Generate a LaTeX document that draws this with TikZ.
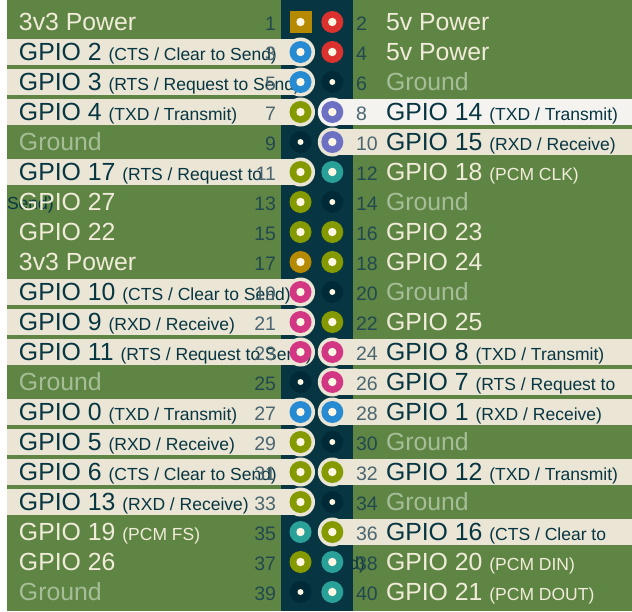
\documentclass[tikz,border=0pt]{standalone}
\usepackage{fontspec}
\setmainfont{Liberation Sans}
\definecolor{panel}{HTML}{5F8544}
\definecolor{column}{HTML}{073642}
\definecolor{beige}{HTML}{EAE5D5}
\definecolor{beigehi}{HTML}{F4F3EF}
\definecolor{ink}{HTML}{073642}
\definecolor{cream}{HTML}{F1ECD9}
\definecolor{gndtxt}{HTML}{A6BE98}
\definecolor{numg}{HTML}{21494F}
\definecolor{numb}{HTML}{4B6670}
\definecolor{pyellow}{HTML}{B58900}
\definecolor{pred}{HTML}{DC322F}
\definecolor{pgreen}{HTML}{859900}
\definecolor{pblue}{HTML}{268BD2}
\definecolor{pviolet}{HTML}{6C71C4}
\definecolor{pmagenta}{HTML}{D33682}
\definecolor{pcyan}{HTML}{2AA198}
\definecolor{pgnd}{HTML}{002B36}
\definecolor{dot}{HTML}{FDF6E3}
\newcommand\bigf{\fontsize{24.8}{30}\selectfont}
\newcommand\smallf{\fontsize{17.5}{20}\selectfont}
\newcommand\numf{\fontsize{19.5}{22}\selectfont}
\pgfdeclarelayer{bg}
\pgfdeclarelayer{wrap}
\pgfdeclarelayer{col}
\pgfdeclarelayer{band}
\pgfdeclarelayer{pins}
\pgfsetlayers{bg,wrap,col,band,main,pins}
\tikzset{
  lblL/.style={anchor=base west,inner sep=0pt,outer sep=0pt,font=\bigf},
  lblR/.style={anchor=base west,inner sep=0pt,outer sep=0pt,font=\bigf},
  numL/.style={anchor=base east,inner sep=0pt,outer sep=0pt,font=\numf},
  numR/.style={anchor=base west,inner sep=0pt,outer sep=0pt,font=\numf},
  pinc/.style={circle,inner sep=0pt,minimum size=22pt,draw=none},
  pinsq/.style={rectangle,inner sep=0pt,minimum size=22pt,draw=none},
  wrapt/.style={inner sep=0pt,outer sep=0pt,font=\smallf,text=ink}
}
% pin drawing
\newcommand\placepin[4]{%
  \begin{pgfonlayer}{pins}
    \node[pinc,fill=#3] (pin#4) at (#1,#2) {};
    \fill[dot] (pin#4.center) circle (4.2pt);
  \end{pgfonlayer}}
\newcommand\placegnd[3]{%
  \begin{pgfonlayer}{pins}
    \node[pinc,fill=pgnd] (pin#3) at (#1,#2) {};
    \fill[dot] (pin#3.center) circle (3pt);
  \end{pgfonlayer}}
% left side (odd pins)
\newcommand\LB[4][beige]{%
  \pgfmathsetmacro\yy{15*#2+7}
  \begin{pgfonlayer}{band}
    \fill[#1] (7,\yy-13) rectangle (300.5,\yy+13);
    \fill[#1] (300.5,\yy) circle (14.5pt);
  \end{pgfonlayer}
  \node[lblL,text=ink] (lab#2) at (19,\yy+8.7) {#4};
  \node[numL,text=numb] (num#2) at (276,\yy+8.7) {#2};
  \placepin{300.5}{\yy}{#3}{#2}}
\newcommand\LP[3]{%
  \pgfmathsetmacro\yy{15*#1+7}
  \node[lblL,text=cream] (lab#1) at (19,\yy+8.7) {#3};
  \node[numL,text=numg] (num#1) at (276,\yy+8.7) {#1};
  \placepin{300.5}{\yy}{#2}{#1}}
\newcommand\LG[1]{%
  \pgfmathsetmacro\yy{15*#1+7}
  \node[lblL,text=gndtxt] (lab#1) at (19,\yy+8.7) {Ground};
  \node[numL,text=numg] (num#1) at (276,\yy+8.7) {#1};
  \placegnd{300.5}{\yy}{#1}}
% right side (even pins)
\newcommand\RB[4][beige]{%
  \pgfmathsetmacro\yy{15*#2-8}
  \begin{pgfonlayer}{band}
    \fill[#1] (332.3,\yy-13) rectangle (632,\yy+13);
    \fill[#1] (332.3,\yy) circle (14.5pt);
  \end{pgfonlayer}
  \node[lblR,text=ink] (lab#2) at (386,\yy+8.7) {#4};
  \node[numR,text=numb] (num#2) at (356,\yy+8.7) {#2};
  \placepin{332.3}{\yy}{#3}{#2}}
\newcommand\RP[3]{%
  \pgfmathsetmacro\yy{15*#1-8}
  \node[lblR,text=cream] (lab#1) at (386,\yy+8.7) {#3};
  \node[numR,text=numg] (num#1) at (356,\yy+8.7) {#1};
  \placepin{332.3}{\yy}{#2}{#1}}
\newcommand\RG[1]{%
  \pgfmathsetmacro\yy{15*#1-8}
  \node[lblR,text=gndtxt] (lab#1) at (386,\yy+8.7) {Ground};
  \node[numR,text=numg] (num#1) at (356,\yy+8.7) {#1};
  \placegnd{332.3}{\yy}{#1}}
\begin{document}
\begin{tikzpicture}[x=1pt,y=-1pt]
\useasboundingbox (0,0) rectangle (632,611);
\begin{pgfonlayer}{bg}
  \fill[white] (0,0) rectangle (632,611);
  \fill[panel] (7,0) rectangle (632,611);
\end{pgfonlayer}
\begin{pgfonlayer}{col}
  \fill[column] (281,0) rectangle (353,611);
\end{pgfonlayer}
% wrapped text fragments
\begin{pgfonlayer}{wrap}
  \node[wrapt,anchor=base west] (wrap11) at (7,209.7) {Send)};
  \node[wrapt,anchor=base east] (wrap36) at (365,569.7) {Send)};
\end{pgfonlayer}
% pin 1 (square)
\node[lblL,text=cream] (lab1) at (19,30.7) {3v3 Power};
\node[numL,text=numg] (num1) at (276,30.7) {1};
\begin{pgfonlayer}{pins}
  \node[pinsq,fill=pyellow] (pin1) at (300.5,22) {};
  \fill[dot] (pin1.center) circle (4.2pt);
\end{pgfonlayer}
% left column
\LB{3}{pblue}{GPIO 2 {\smallf (CTS / Clear to Send)}}
\LB{5}{pblue}{GPIO 3 {\smallf (RTS / Request to Send)}}
\LB{7}{pgreen}{GPIO 4 {\smallf (TXD / Transmit)}}
\LG{9}
\LB{11}{pgreen}{GPIO 17 {\smallf (RTS / Request to}}
\LP{13}{pgreen}{GPIO 27}
\LP{15}{pgreen}{GPIO 22}
\LP{17}{pyellow}{3v3 Power}
\LB{19}{pmagenta}{GPIO 10 {\smallf (CTS / Clear to Send)}}
\LB{21}{pmagenta}{GPIO 9 {\smallf (RXD / Receive)}}
\LB{23}{pmagenta}{GPIO 11 {\smallf (RTS / Request to Send)}}
\LG{25}
\LB{27}{pblue}{GPIO 0 {\smallf (TXD / Transmit)}}
\LB{29}{pgreen}{GPIO 5 {\smallf (RXD / Receive)}}
\LB{31}{pgreen}{GPIO 6 {\smallf (CTS / Clear to Send)}}
\LB{33}{pgreen}{GPIO 13 {\smallf (RXD / Receive)}}
\LP{35}{pcyan}{GPIO 19 {\smallf (PCM FS)}}
\LP{37}{pgreen}{GPIO 26}
\LG{39}
% right column
\RP{2}{pred}{5v Power}
\RP{4}{pred}{5v Power}
\RG{6}
\RB[beigehi]{8}{pviolet}{GPIO 14 {\smallf (TXD / Transmit)}}
\RB{10}{pviolet}{GPIO 15 {\smallf (RXD / Receive)}}
\RP{12}{pcyan}{GPIO 18 {\smallf (PCM CLK)}}
\RG{14}
\RP{16}{pgreen}{GPIO 23}
\RP{18}{pgreen}{GPIO 24}
\RG{20}
\RP{22}{pgreen}{GPIO 25}
\RB{24}{pmagenta}{GPIO 8 {\smallf (TXD / Transmit)}}
\RB{26}{pmagenta}{GPIO 7 {\smallf (RTS / Request to}}
\RB{28}{pblue}{GPIO 1 {\smallf (RXD / Receive)}}
\RG{30}
\RB{32}{pgreen}{GPIO 12 {\smallf (TXD / Transmit)}}
\RG{34}
\RB{36}{pgreen}{GPIO 16 {\smallf (CTS / Clear to}}
\RP{38}{pcyan}{GPIO 20 {\smallf (PCM DIN)}}
\RP{40}{pcyan}{GPIO 21 {\smallf (PCM DOUT)}}
\end{tikzpicture}
\end{document}
